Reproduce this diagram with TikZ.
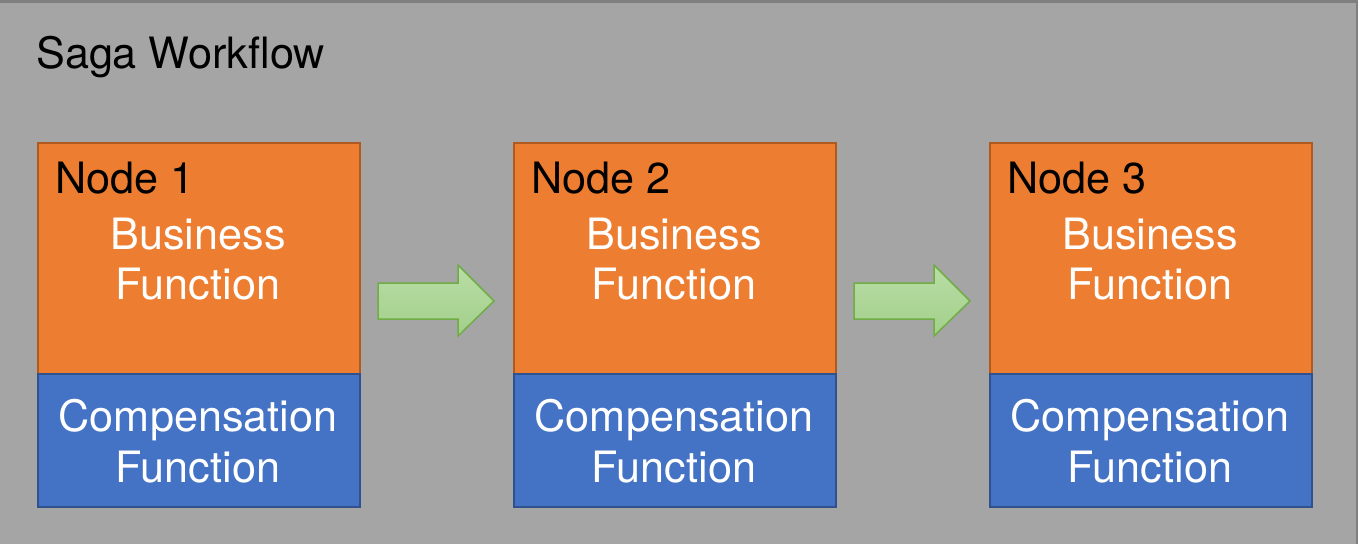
\documentclass[tikz,border=0pt]{standalone}
\usepackage{fontspec}
\setmainfont{TeX Gyre Heros}
\definecolor{bggray}{HTML}{A5A5A5}
\definecolor{frame}{HTML}{7F7F7F}
\definecolor{orng}{HTML}{ED7D31}
\definecolor{orngdark}{HTML}{AE5A21}
\definecolor{blu}{HTML}{4472C4}
\definecolor{bludark}{HTML}{2F528F}
\definecolor{grnedge}{HTML}{70AD47}
\definecolor{grntop}{HTML}{B9DDA6}
\definecolor{grnbot}{HTML}{A2CF8A}
\begin{document}
\begin{tikzpicture}[x=1pt,y=-1pt,
  txt/.style={inner sep=0pt,font=\fontsize{43.2}{50}\selectfont},
  bizbox/.style={draw=orngdark,fill=orng,line width=1.2pt},
  compbox/.style={draw=bludark,fill=blu,line width=1.2pt},
  blockarrow/.style={draw=grnedge,line width=1.5pt,top color=grntop,bottom color=grnbot}]
\useasboundingbox (0,0) rectangle (1358,544);
\fill[bggray] (0,0) rectangle (1358,544);
\draw[frame,line width=2.5pt] (0,1.25) -- (1356.75,1.25) -- (1356.75,544);
\node[txt,anchor=base west] (title) at (36,68) {Saga Workflow};
\foreach \i/\x in {1/38,2/514,3/990}{
  \draw[bizbox] (\x,143) rectangle (\x+322,374);
  \draw[compbox] (\x,374) rectangle (\x+322,507);
  \coordinate (b\i) at (\x,143);
  \node[txt,anchor=base west] (n\i) at (\x+17,193) {Node \i};
  \node[txt,anchor=base,white] (bu\i) at (\x+160,249) {Business};
  \node[txt,anchor=base,white] (bf\i) at (\x+160,299) {Function};
  \node[txt,anchor=base,white] (cc\i) at (\x+160,431) {Compensation};
  \node[txt,anchor=base,white] (cf\i) at (\x+160,482) {Function};
}
\foreach \x in {378,854}{
  \draw[blockarrow] (\x,283) -- (\x+80,283) -- (\x+80,265) -- (\x+116,301)
    -- (\x+80,336) -- (\x+80,319) -- (\x,319) -- cycle;
}
\end{tikzpicture}
\end{document}
